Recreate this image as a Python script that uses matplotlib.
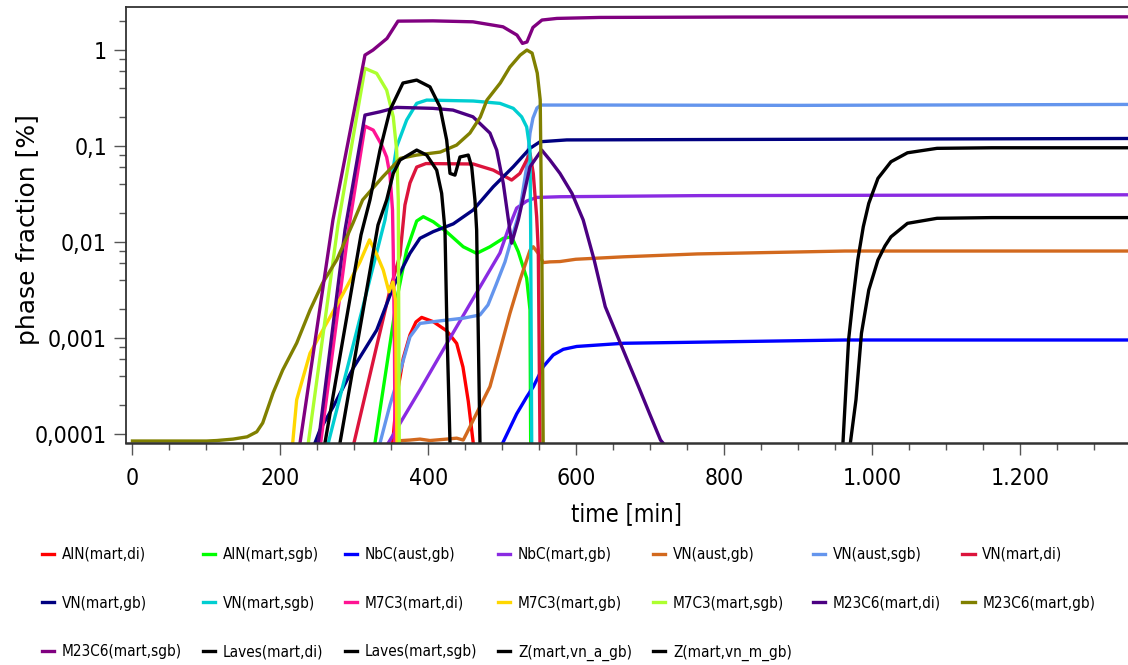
import matplotlib
matplotlib.use("Agg")
import matplotlib.pyplot as plt
from matplotlib.ticker import FixedLocator, FixedFormatter, LogLocator, MultipleLocator, NullFormatter

# phase fraction [%] over time [min]
aln_mart_di_t = [351.6, 357.4, 366.0, 375.0, 383.1, 390.8, 406.5, 424.6, 438.1, 446.6, 453.8, 460.5]
aln_mart_di = [8.1e-5, 2.56e-4, 6.2e-4, 1.08e-3, 1.47e-3, 1.64e-3, 1.48e-3, 1.19e-3, 8.8e-4, 5.0e-4, 2.2e-4, 8.1e-5]

aln_mart_sgb_t = [327.7, 343.5, 357.0, 370.5, 384.1, 393.0, 406.5, 424.6, 447.0, 465.1, 483.1, 501.1, 512.4, 521.4, 532.7, 537.2, 538.1]
aln_mart_sgb = [8.1e-5, 5.1e-4, 2.5e-3, 8.2e-3, 0.0165, 0.0183, 0.0162, 0.0127, 8.9e-3, 7.6e-3, 8.9e-3, 0.0109, 0.0113, 7.9e-3, 4.2e-3, 1.96e-3, 8.1e-5]

nbc_aust_gb_t = [500.3, 519.2, 532.7, 541.6, 555.1, 568.6, 582.2, 600.3, 663.8, 812.8, 962.8, 1345]
nbc_aust_gb = [8.1e-5, 1.63e-4, 2.44e-4, 3.11e-4, 5.04e-4, 6.67e-4, 7.64e-4, 8.18e-4, 8.83e-4, 9.18e-4, 9.55e-4, 9.55e-4]

nbc_mart_gb_t = [345.7, 388.5, 429.1, 469.6, 496.6, 507.4, 519.2, 532.7, 546.2, 577.7, 766.9, 1345]
nbc_mart_gb = [8.1e-5, 2.89e-4, 1.0e-3, 3.4e-3, 7.67e-3, 0.0133, 0.0225, 0.0266, 0.029, 0.0295, 0.0303, 0.0309]

vn_aust_gb_t = [354.7, 375.0, 388.5, 402.0, 424.6, 438.1, 447.0, 451.6, 469.6, 483.1, 496.6, 510.1, 523.6, 537.2,
                541.6, 548.4, 555.1, 564.2, 577.7, 599.0, 663.8, 763.4, 912.8, 962.8, 1345]
vn_aust_gb = [8.5e-5, 8.7e-5, 8.9e-5, 8.6e-5, 8.9e-5, 9.1e-5, 8.7e-5, 1.02e-4, 1.94e-4, 3.13e-4, 7.5e-4, 1.81e-3, 4.0e-3, 8.2e-3,
              8.9e-3, 7.6e-3, 6.1e-3, 6.2e-3, 6.25e-3, 6.6e-3, 7.0e-3, 7.5e-3, 7.9e-3, 8.04e-3, 8.04e-3]

vn_aust_sgb_t = [334.5, 348.0, 361.5, 375.0, 388.5, 415.5, 447.0, 469.6, 480.4, 491.2, 503.4, 514.6, 523.6, 532.7,
                 537.2, 541.2, 546.6, 552.0, 631.8, 902.0, 1345]
vn_aust_sgb = [8.1e-5, 2.02e-4, 4.45e-4, 1.03e-3, 1.42e-3, 1.51e-3, 1.61e-3, 1.74e-3, 2.21e-3, 3.56e-3, 6.2e-3, 0.0124, 0.0215, 0.0605,
               0.135, 0.194, 0.247, 0.265, 0.265, 0.263, 0.269]

vn_mart_di_t = [299.3, 330.4, 348.0, 361.5, 368.2, 375.0, 384.1, 396.6, 460.5, 487.6, 512.4, 523.6, 532.7, 537.2,
                541.6, 546.2, 548.4, 550.7]
vn_mart_di = [8.1e-5, 8.5e-4, 3.16e-3, 7.3e-3, 0.0242, 0.041, 0.06, 0.0653, 0.0646, 0.0558, 0.044, 0.0516, 0.071, 0.0834,
              0.0516, 0.0183, 0.0082, 8.1e-5]

vn_mart_gb_t = [246.6, 253.4, 271.4, 298.4, 330.0, 352.4, 361.5, 375.0, 388.5, 406.5, 433.5, 460.5, 487.6, 514.6,
                537.2, 550.7, 586.8, 766.9, 1345]
vn_mart_gb = [8.1e-5, 1.11e-4, 1.94e-4, 4.89e-4, 1.21e-3, 3.4e-3, 4.75e-3, 7.62e-3, 0.0109, 0.0128, 0.0154, 0.0215, 0.0375, 0.0605,
              0.094, 0.110, 0.115, 0.116, 0.119]

vn_mart_sgb_t = [264.6, 341.2, 357.0, 370.5, 384.1, 397.6, 460.5, 496.6, 514.6, 525.9, 532.7, 537.2, 538.1, 539.5]
vn_mart_sgb = [8.1e-5, 0.0169, 0.0977, 0.185, 0.276, 0.2985, 0.292, 0.276, 0.245, 0.2, 0.157, 0.090, 0.0133, 8.1e-5]

m7c3_mart_di_t = [254.3, 291.9, 314.2, 325.4, 336.8, 343.5, 348.0, 351.4, 352.4, 354.1, 354.7]
m7c3_mart_di = [8.1e-5, 0.0133, 0.160, 0.1455, 0.1016, 0.0762, 0.0495, 0.0215, 0.0082, 7.5e-4, 8.1e-5]

m7c3_mart_gb_t = [216.5, 221.9, 239.9, 262.4, 284.9, 307.4, 320.3, 330.4, 338.9, 346.6, 352.0, 355.4, 357.4]
m7c3_mart_gb = [8.1e-5, 2.28e-4, 6.95e-4, 1.43e-3, 2.92e-3, 6.18e-3, 0.0105, 7.3e-3, 5.1e-3, 3.03e-3, 3.83e-3, 2.49e-3, 8.1e-5]

m7c3_mart_sgb_t = [237.6, 277.7, 314.2, 330.0, 343.5, 352.4, 357.0, 359.2, 360.5]
m7c3_mart_sgb = [8.1e-5, 0.015, 0.638, 0.566, 0.379, 0.2, 0.090, 0.0273, 8.1e-5]

m23c6_mart_di_t = [251.1, 287.2, 314.2, 334.5, 357.0, 406.1, 433.1, 460.1, 483.1, 492.2, 501.1, 507.4, 512.4, 521.4,
                   537.2, 553.0, 564.2, 577.7, 593.9, 609.1, 623.9, 638.9, 653.8, 668.8, 683.8, 698.6, 713.6, 716.9]
m23c6_mart_di = [8.1e-5, 0.0133, 0.2085, 0.2254, 0.2506, 0.2449, 0.235, 0.2, 0.1355, 0.0902, 0.0406, 0.0183, 0.0097, 0.0169,
                 0.0605, 0.0902, 0.071, 0.0516, 0.032, 0.0169, 0.0065, 0.00212, 0.00112, 5.9e-4, 3.13e-4, 1.65e-4, 8.7e-5, 8.1e-5]

m23c6_mart_gb_t = [0, 100, 114, 136, 155, 168, 176, 190, 203, 222, 240, 257, 276, 298, 311, 338, 362, 384, 416,
                   438, 456, 470, 479, 497, 510, 524, 533, 540, 547, 551, 553, 555]
m23c6_mart_gb = [8.5e-5, 8.5e-5, 8.6e-5, 8.9e-5, 9.4e-5, 1.06e-4, 1.31e-4, 2.69e-4, 4.65e-4, 8.9e-4, 1.96e-3, 3.74e-3, 6.5e-3,
                 0.0157, 0.0273, 0.0473, 0.074, 0.080, 0.086, 0.1016, 0.1355, 0.1986, 0.2985, 0.449, 0.658, 0.877, 0.989,
                 0.92, 0.57, 0.30, 0.0133, 8.1e-5]

m23c6_mart_sgb_t = [226.4, 270.9, 314.2, 325.0, 343.9, 358.8, 406.1, 460.1, 500.7, 519.6, 527.0, 533.1, 541.2, 553.4, 573.6, 631.8, 813.0, 1345]
m23c6_mart_sgb = [8.1e-5, 0.0169, 0.877, 0.989, 1.306, 1.977, 1.99, 1.945, 1.726, 1.416, 1.16, 1.2, 1.7, 2.03, 2.11, 2.16, 2.18, 2.19]

laves_mart_di_t = [260.1, 308.8, 320.9, 334.5, 348.0, 365.5, 384.1, 402.0, 415.5, 424.6, 429.1, 435.8, 442.6, 453.8,
                   458.4, 462.8, 465.1, 469.6]
laves_mart_di = [8.1e-5, 0.0118, 0.0273, 0.0902, 0.235, 0.449, 0.482, 0.41, 0.254, 0.1146, 0.0516, 0.0495, 0.0764, 0.080,
                 0.0605, 0.0273, 0.0133, 8.1e-5]

laves_mart_sgb_t = [280.4, 331.8, 343.5, 352.4, 361.5, 384.1, 397.6, 411.1, 417.8, 422.3, 425.0, 429.1]
laves_mart_sgb = [8.1e-5, 0.015, 0.0273, 0.0516, 0.071, 0.0902, 0.080, 0.0558, 0.032, 0.0133, 1.21e-3, 8.1e-5]

z_vn_a_gb_t = [960.1, 967.7, 973.6, 980.1, 987.6, 995.0, 1007.4, 1025.0, 1047.3, 1087.2, 1161.5, 1345]
z_vn_a_gb = [8.1e-5, 9.55e-4, 2.49e-3, 6.49e-3, 0.0144, 0.0252, 0.0458, 0.0682, 0.0845, 0.094, 0.0953, 0.0953]

z_vn_m_gb_t = [970.1, 977.7, 985.1, 995.0, 1007.4, 1016.9, 1025.0, 1047.3, 1087.2, 1161.5, 1345]
z_vn_m_gb = [8.1e-5, 2.28e-4, 1.12e-3, 3.16e-3, 6.49e-3, 9.08e-3, 0.0113, 0.0156, 0.0176, 0.0179, 0.0179]

series_names = ["AlN(mart,di)", "AlN(mart,sgb)", "NbC(aust,gb)", "NbC(mart,gb)", "VN(aust,gb)", "VN(aust,sgb)",
                "VN(mart,di)", "VN(mart,gb)", "VN(mart,sgb)", "M7C3(mart,di)", "M7C3(mart,gb)", "M7C3(mart,sgb)",
                "M23C6(mart,di)", "M23C6(mart,gb)", "M23C6(mart,sgb)", "Laves(mart,di)", "Laves(mart,sgb)",
                "Z(mart,vn_a_gb)", "Z(mart,vn_m_gb)"]
series_colors = ["red", "lime", "blue", "blueviolet", "chocolate", "cornflowerblue", "crimson", "navy",
                 "darkturquoise", "deeppink", "gold", "greenyellow", "indigo", "olive", "purple",
                 "black", "black", "black", "black"]
series_data = [
    (aln_mart_di_t, aln_mart_di), (aln_mart_sgb_t, aln_mart_sgb), (nbc_aust_gb_t, nbc_aust_gb),
    (nbc_mart_gb_t, nbc_mart_gb), (vn_aust_gb_t, vn_aust_gb), (vn_aust_sgb_t, vn_aust_sgb),
    (vn_mart_di_t, vn_mart_di), (vn_mart_gb_t, vn_mart_gb), (vn_mart_sgb_t, vn_mart_sgb),
    (m7c3_mart_di_t, m7c3_mart_di), (m7c3_mart_gb_t, m7c3_mart_gb), (m7c3_mart_sgb_t, m7c3_mart_sgb),
    (m23c6_mart_di_t, m23c6_mart_di), (m23c6_mart_gb_t, m23c6_mart_gb), (m23c6_mart_sgb_t, m23c6_mart_sgb),
    (laves_mart_di_t, laves_mart_di), (laves_mart_sgb_t, laves_mart_sgb),
    (z_vn_a_gb_t, z_vn_a_gb), (z_vn_m_gb_t, z_vn_m_gb),
]

y_ticks = [1e-4, 1e-3, 1e-2, 1e-1, 1]
y_tick_labels = ["0,0001", "0,001", "0,01", "0,1", "1"]
x_ticks = [0, 200, 400, 600, 800, 1000, 1200]
x_tick_labels = ["0", "200", "400", "600", "800", "1.000", "1.200"]

plt.rcParams["font.family"] = ["DejaVu Sans"]
plt.rcParams["font.stretch"] = "condensed"

fig = plt.figure(figsize=(11.28, 6.65), dpi=100)
ax = fig.add_axes([0.1114, 0.3334, 0.8886, 0.656])

handles = []
for name, color, (t, v) in zip(series_names, series_colors, series_data):
    (line,) = ax.plot(t, v, color=color, linewidth=2.4, label=name, solid_joinstyle="round")
    handles.append(line)

ax.set_yscale("log")
ax.set_xlim(-9.2, 1345.3)
ax.set_ylim(8.05e-5, 2.77)

ax.yaxis.set_major_locator(FixedLocator(y_ticks))
ax.yaxis.set_major_formatter(FixedFormatter(y_tick_labels))
ax.yaxis.set_minor_locator(LogLocator(base=10, subs=(2, 4, 6, 8)))
ax.yaxis.set_minor_formatter(NullFormatter())
ax.xaxis.set_major_locator(FixedLocator(x_ticks))
ax.xaxis.set_major_formatter(FixedFormatter(x_tick_labels))
ax.xaxis.set_minor_locator(MultipleLocator(50))

ax.tick_params(which="major", direction="out", length=8.5, width=1.0, color="#555555", labelsize=16.5, pad=5)
ax.tick_params(which="minor", direction="out", length=5, width=1.0, color="#555555")
ax.tick_params(axis="x", which="major", pad=8.5)

for side in ["left", "top", "bottom"]:
    ax.spines[side].set_color("#333333")
    ax.spines[side].set_linewidth(1.3)
ax.spines["bottom"].set_linewidth(1.8)
ax.spines["right"].set_visible(False)

ax.set_xlabel("time [min]", fontsize=17)
ax.xaxis.label.set_va("center")
ax.xaxis.set_label_coords(0.5, -0.162)
ax.set_ylabel("phase fraction [%]", fontsize=18, fontstretch="normal")
ax.yaxis.label.set_va("center")
ax.yaxis.set_label_coords(-0.097, 0.489)

# legend is filled column by column, so reorder to read row by row
ncol = 7
order = []
for c in range(ncol):
    for r in range(3):
        idx = r * ncol + c
        if idx < len(handles):
            order.append(idx)
fig.legend([handles[i] for i in order], [series_names[i] for i in order],
           ncol=ncol, loc="upper left", bbox_to_anchor=(0.037, 0.1775), frameon=False,
           fontsize=11, handlelength=0.8, handletextpad=0.5, columnspacing=1.39,
           labelspacing=2.21, borderpad=0, borderaxespad=0)

fig.savefig("out.png", dpi=100)
